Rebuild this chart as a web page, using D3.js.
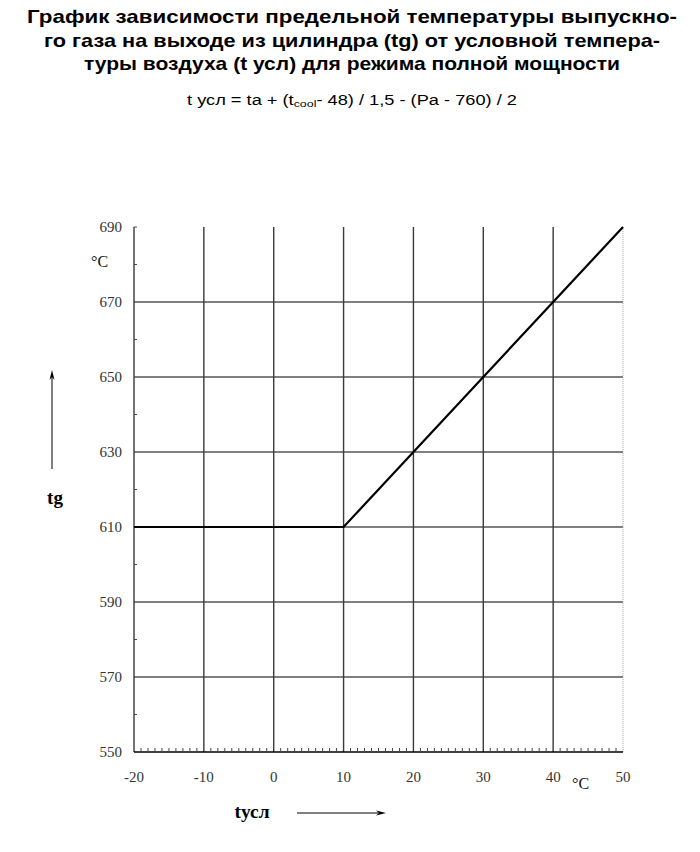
<!DOCTYPE html>
<html><head><meta charset="utf-8">
<script src="https://cdn.jsdelivr.net/npm/d3@7"></script>
<style>body{margin:0;background:#fff}svg{display:block}</style>
</head><body>
<svg id="c" width="700" height="852"></svg>
<script>
const titleLines = ["График зависимости предельной температуры выпускно-","го газа на выходе из цилиндра (tg) от условной темпера-","туры воздуха (t усл) для режима полной мощности"];
const titleWidths = [650, 616, 536];
const xTicks = [-20,-10,0,10,20,30,40,50];
const yTicks = [550,570,590,610,630,650,670,690];
const lineX = [-20,10,20,30,40,50];
const lineY = [610,610,630,650,670,690];

const svg = d3.select("#c");
const x = d3.scaleLinear().domain([-20,50]).range([134,623]);
const y = d3.scaleLinear().domain([550,690]).range([752,227]);

// title
svg.append("g").selectAll("text").data(titleLines).join("text")
  .attr("x",352).attr("y",(d,i)=>23+i*23.5).attr("text-anchor","middle")
  .attr("font-family","Liberation Sans, Arial, sans-serif").attr("font-weight","bold").attr("font-size",19)
  .attr("textLength",(d,i)=>titleWidths[i]).attr("lengthAdjust","spacingAndGlyphs")
  .attr("fill","#000").text(d=>d);
const sub = svg.append("text").attr("x",352).attr("y",105).attr("text-anchor","middle")
  .attr("font-family","Liberation Sans, Arial, sans-serif").attr("font-size",14).attr("fill","#000")
  .attr("textLength",330).attr("lengthAdjust","spacingAndGlyphs");
sub.append("tspan").text("t усл = ta + (t");
sub.append("tspan").attr("font-size",9.5).attr("dy",2).text("cool");
sub.append("tspan").attr("dy",-2).text("- 48) / 1,5 - (Pa - 760) / 2");

// horizontal grid
svg.append("g").selectAll("line").data(yTicks.filter(v=>v>550&&v<690)).join("line")
  .attr("x1",x(-20)).attr("x2",x(50)).attr("y1",d=>y(d)).attr("y2",d=>y(d))
  .attr("stroke","#000").attr("stroke-width",1.2);
// vertical grid
svg.append("g").selectAll("line").data(xTicks.filter(v=>v>-20&&v<50)).join("line")
  .attr("x1",d=>x(d)).attr("x2",d=>x(d)).attr("y1",y(690)).attr("y2",y(550))
  .attr("stroke","#3a3a3a").attr("stroke-width",1.4);
// right dotted edge
svg.append("line").attr("x1",x(50)).attr("x2",x(50)).attr("y1",y(690)).attr("y2",y(550))
  .attr("stroke","#aaa").attr("stroke-width",1).attr("stroke-dasharray","1,1");
// left axis
svg.append("line").attr("x1",x(-20)).attr("x2",x(-20)).attr("y1",y(690)).attr("y2",y(550))
  .attr("stroke","#3a3a3a").attr("stroke-width",1.4);
svg.append("line").attr("x1",x(-20)).attr("x2",x(-20)+3).attr("y1",y(690)).attr("y2",y(690))
  .attr("stroke","#444").attr("stroke-width",1);
// y minor ticks
svg.append("g").selectAll("line").data(d3.range(560,690,20)).join("line")
  .attr("x1",x(-20)).attr("x2",x(-20)+3).attr("y1",d=>y(d)).attr("y2",d=>y(d))
  .attr("stroke","#444").attr("stroke-width",1);
// bottom axis
svg.append("line").attr("x1",x(-20)).attr("x2",x(50)).attr("y1",y(550)).attr("y2",y(550))
  .attr("stroke","#000").attr("stroke-width",1.4);
svg.append("g").selectAll("line").data(d3.range(-19,50).filter(v=>v%10!==0)).join("line")
  .attr("x1",d=>x(d)).attr("x2",d=>x(d)).attr("y1",y(550)).attr("y2",y(550)-4)
  .attr("stroke","#444").attr("stroke-width",1);

// data line
svg.append("path").datum(lineX.map((v,i)=>[v,lineY[i]]))
  .attr("d",d3.line().x(d=>x(d[0])).y(d=>y(d[1])))
  .attr("fill","none").attr("stroke","#000").attr("stroke-width",2.2);

// tick labels
const serif = "Liberation Serif, Times New Roman, serif";
svg.append("g").selectAll("text").data(yTicks).join("text")
  .attr("x",122).attr("y",d=>y(d)+5).attr("text-anchor","end")
  .attr("font-family",serif).attr("font-size",15).attr("fill","#333").text(d=>d);
svg.append("g").selectAll("text").data(xTicks).join("text")
  .attr("x",d=>x(d)).attr("y",782).attr("text-anchor","middle")
  .attr("font-family",serif).attr("font-size",15).attr("fill","#333").text(d=>d);

// units
svg.append("text").attr("x",91).attr("y",267).attr("font-family",serif).attr("font-size",16).attr("fill","#111").text("°C");
svg.append("text").attr("x",572).attr("y",789).attr("font-family",serif).attr("font-size",16).attr("fill","#111").text("°C");

// axis titles
svg.append("text").attr("x",55).attr("y",504).attr("text-anchor","middle").attr("font-family",serif)
  .attr("font-weight","bold").attr("font-size",19).text("tg");
svg.append("text").attr("x",252).attr("y",818).attr("text-anchor","middle").attr("font-family",serif)
  .attr("font-weight","bold").attr("font-size",18).attr("textLength",35).attr("lengthAdjust","spacingAndGlyphs").text("tусл");

// arrows
svg.append("line").attr("x1",52).attr("x2",52).attr("y1",469).attr("y2",375).attr("stroke","#000").attr("stroke-width",1);
svg.append("path").attr("d","M52,370 L49.5,380 L52,377 L54.5,380 Z").attr("fill","#000");
svg.append("line").attr("x1",297).attr("x2",380).attr("y1",813).attr("y2",813).attr("stroke","#000").attr("stroke-width",1);
svg.append("path").attr("d","M386,813 L376,810.5 L379,813 L376,815.5 Z").attr("fill","#000");
</script>
</body></html>
